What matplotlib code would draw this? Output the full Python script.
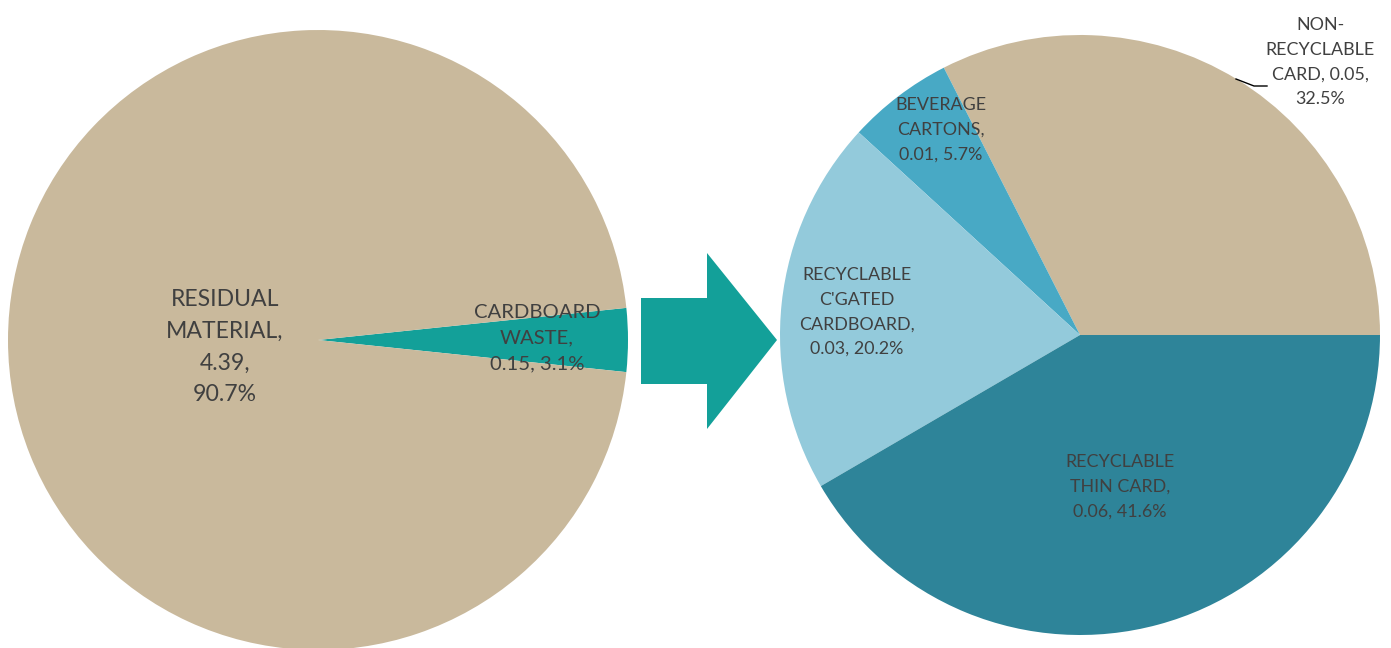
import matplotlib
matplotlib.use("Agg")
import matplotlib.pyplot as plt
from matplotlib.patches import Polygon

W, H = 1391, 648

# left pie: all waste
left_names = ["CARDBOARD\nWASTE", "RESIDUAL\nMATERIAL"]
left_values = [0.15, 4.39]
left_pct = [3.1, 90.7]

# right pie: breakdown of the cardboard waste
right_names = ["NON-\nRECYCLABLE\nCARD", "BEVERAGE\nCARTONS",
               "RECYCLABLE\nC'GATED\nCARDBOARD", "RECYCLABLE\nTHIN CARD"]
right_values = [0.05, 0.01, 0.03, 0.06]
right_pct = [32.5, 5.7, 20.2, 41.6]

beige = "#C9B99C"
teal = "#13A099"
right_colors = [beige, "#48A9C5", "#93CADB", "#2E8499"]
txt = "#404040"

plt.rcParams["font.family"] = ["Lato", "DejaVu Sans"]

fig = plt.figure(figsize=(W / 100, H / 100), dpi=100)
ax = fig.add_axes([0, 0, 1, 1])
ax.set_xlim(0, W)
ax.set_ylim(0, H)
ax.set_aspect("equal")
ax.axis("off")


def py(y):
    # pixel row to data y
    return H - y


# left pie, cardboard slice centred on the right-hand horizontal
frac = left_pct[0] / sum(left_pct)
ax.pie(left_pct, colors=[teal, beige], startangle=-frac * 180,
       counterclock=True, center=(318, py(340)), radius=310,
       wedgeprops=dict(linewidth=0))

# right pie
ax.pie(right_pct, colors=right_colors, startangle=0, counterclock=True,
       center=(1080, py(335)), radius=300, wedgeprops=dict(linewidth=0))

ax.set_xlim(0, W)
ax.set_ylim(0, H)

# arrow between the pies
arrow = Polygon([(641, py(298)), (707, py(298)), (707, py(253)), (777, py(340)),
                 (707, py(429)), (707, py(384)), (641, py(384))],
                closed=True, facecolor=teal, edgecolor="none")
ax.add_patch(arrow)

# labels
ax.text(225, py(347), f"{left_names[1]},\n{left_values[1]:.2f},\n{left_pct[1]}%",
        ha="center", va="center", fontsize=16.6, color=txt, linespacing=1.63)
ax.text(537, py(338), f"{left_names[0]},\n{left_values[0]:.2f}, {left_pct[0]}%",
        ha="center", va="center", fontsize=14.6, color=txt, linespacing=1.64)

kw = dict(ha="center", va="center", fontsize=12.9, color=txt, linespacing=1.66)
ax.text(1320, py(62), "NON-\nRECYCLABLE\nCARD, %.2f,\n%.1f%%" % (right_values[0], right_pct[0]), **kw)
ax.text(941, py(130), f"{right_names[1]},\n{right_values[1]:.2f}, {right_pct[1]}%", **kw)
ax.text(857, py(312), f"{right_names[2]},\n{right_values[2]:.2f}, {right_pct[2]}%", **kw)
ax.text(1120, py(487), f"{right_names[3]},\n{right_values[3]:.2f}, {right_pct[3]}%", **kw)

# leader line for the outside label
ax.plot([1236, 1254, 1267], [py(79), py(86), py(86)], color="black", lw=1)

fig.savefig("out.png", dpi=100)
